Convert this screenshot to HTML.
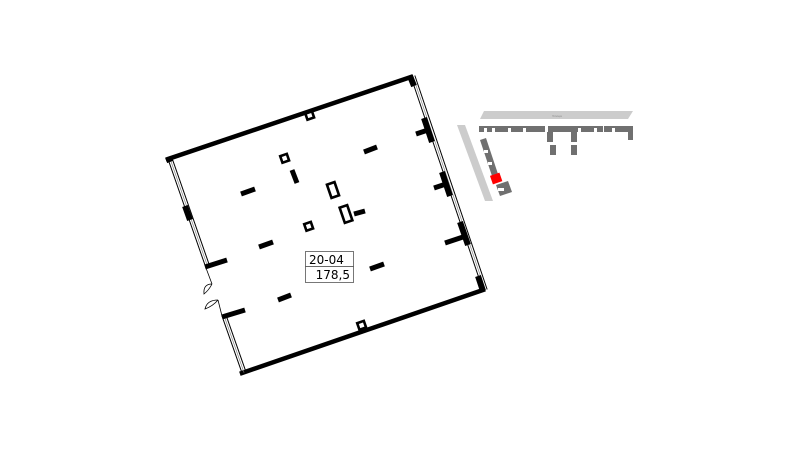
<!DOCTYPE html>
<html><head><meta charset="utf-8"><style>
html,body{margin:0;padding:0;background:#fff;width:800px;height:450px;overflow:hidden}
svg{display:block}
text{font-family:"DejaVu Sans","Liberation Sans",sans-serif}
</style></head><body>
<svg width="800" height="450" viewBox="0 0 800 450" xmlns="http://www.w3.org/2000/svg">
<g stroke="#000" fill="none" stroke-linecap="square">
<line x1="168" y1="159" x2="411" y2="77" stroke-width="4.5"/>
<line x1="242" y1="373" x2="483" y2="290" stroke-width="4.5"/>
<line x1="411" y1="77" x2="483" y2="290" stroke-width="1"/>
<line x1="415" y1="76" x2="487" y2="289" stroke-width="1"/>
<line x1="413" y1="76.5" x2="485" y2="289.5" stroke-width="0.6" stroke="#777"/>
<line x1="168" y1="159" x2="206" y2="268" stroke-width="1"/>
<line x1="172" y1="158" x2="210" y2="267" stroke-width="1"/>
<line x1="170" y1="158.5" x2="208" y2="267.5" stroke-width="0.6" stroke="#777"/>
<line x1="222" y1="316" x2="242" y2="373" stroke-width="1"/>
<line x1="226" y1="315" x2="246" y2="372" stroke-width="1"/>
<line x1="224" y1="315.5" x2="244" y2="372.5" stroke-width="0.6" stroke="#777"/>
</g>
<g stroke="#000" stroke-width="6" fill="none">
<line x1="410" y1="76" x2="414" y2="86"/>
<line x1="424" y1="118" x2="432" y2="142"/>
<line x1="442" y1="172" x2="450" y2="196"/>
<line x1="460" y1="222" x2="468" y2="245"/>
<line x1="478" y1="276" x2="483" y2="291"/>
<line x1="185" y1="206" x2="190" y2="220"/>
<line x1="168" y1="157" x2="170" y2="162"/>
</g>
<g stroke="#000" stroke-width="5">
<line x1="416" y1="134" x2="428" y2="130"/>
<line x1="434" y1="188" x2="446" y2="184"/>
<line x1="445" y1="243" x2="463" y2="237"/>
<line x1="205" y1="267" x2="227" y2="260"/>
<line x1="222" y1="317" x2="245" y2="310"/>
<line x1="241" y1="194" x2="255" y2="189"/>
<line x1="292" y1="170" x2="297" y2="183"/>
<line x1="364" y1="152" x2="377" y2="147"/>
<line x1="259" y1="247" x2="273" y2="242"/>
<line x1="354" y1="214" x2="365" y2="211"/>
<line x1="370" y1="269" x2="384" y2="264"/>
<line x1="278" y1="300" x2="291" y2="295"/>
</g>
<g stroke="#000" stroke-width="0.8" fill="none">
<path d="M206 268 L212 284 M218 300 L222 316"/>
<path d="M212 284 Q203 284 204 294 Q209 290 212 284 M218 300 Q207 300 205 309 Q213 306 218 300"/>
</g>
<g stroke="#000" stroke-width="2.6" fill="none">
<rect x="281" y="155" width="7" height="7" transform="rotate(-19 284 158)"/>
<rect x="305" y="223" width="7" height="7" transform="rotate(-19 308 226)"/>
<rect x="306" y="112" width="7" height="7" transform="rotate(-19 309 115)"/>
<rect x="358" y="322" width="7" height="7" transform="rotate(-19 361 325)"/>
<rect x="329" y="183" width="8" height="14" transform="rotate(-19 333 190)"/>
<rect x="342" y="206" width="8" height="16" transform="rotate(-19 346 214)"/>
</g>
<rect x="305.5" y="251.5" width="48" height="15" fill="#fff" stroke="#555" stroke-width="0.8"/>
<rect x="305.5" y="266.5" width="48" height="16" fill="#fff" stroke="#555" stroke-width="0.8"/>
<text x="309" y="264" font-size="12">20-04</text>
<text x="350" y="279" font-size="12" text-anchor="end">178,5</text>
<polygon points="484,111 633,111 628,119 480,119" fill="#ccc"/>
<text x="557" y="117" font-size="3" fill="#888" text-anchor="middle">Улица</text>
<polygon points="457,125 465,125 493,201 485,201" fill="#ccc"/>
<g fill="#707070">
<rect x="479" y="126" width="66" height="6"/>
<rect x="548" y="126" width="55" height="6"/>
<rect x="604" y="126" width="29" height="6"/>
<rect x="628" y="132" width="5" height="8"/>
<rect x="547" y="132" width="6" height="10"/>
<rect x="571" y="132" width="6" height="10"/>
<rect x="550" y="145" width="6" height="10"/>
<rect x="571" y="145" width="6" height="10"/>
<polygon points="480,140 486,138 500,180 494,182"/>
<polygon points="496,185 508,181 512,192 500,196"/>
</g>
<g fill="#fff">
<rect x="484" y="128" width="3" height="4"/><rect x="492" y="128" width="3" height="4"/>
<rect x="508" y="128" width="3" height="4"/><rect x="523" y="128" width="3" height="4"/>
<rect x="578" y="128" width="3" height="4"/><rect x="594" y="128" width="3" height="4"/>
<rect x="612" y="128" width="3" height="4"/><rect x="498" y="188" width="6" height="3"/>
<rect x="484" y="150" width="4" height="3"/><rect x="488" y="162" width="4" height="3"/>
</g>
<rect x="491" y="174" width="10" height="9" fill="#f00" transform="rotate(-19 496 178)"/>
</svg>
</body></html>
